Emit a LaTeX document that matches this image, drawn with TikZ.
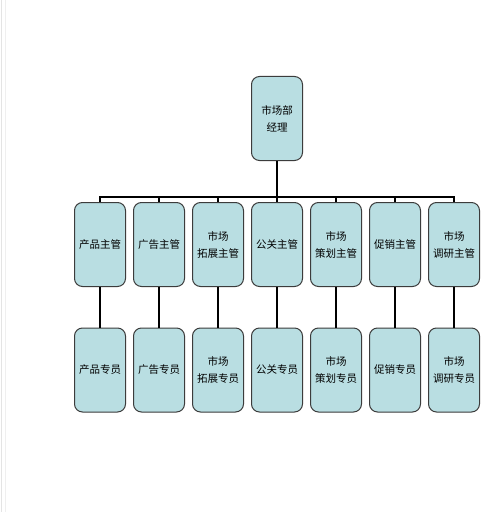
\documentclass[tikz,border=0pt]{standalone}
\usepackage{fontspec}
\newfontfamily\cjk{Noto Sans CJK SC}
\definecolor{boxfill}{RGB}{185,222,226}
\definecolor{boxedge}{RGB}{60,60,60}
\definecolor{faint}{RGB}{228,228,228}
\begin{document}
\begin{tikzpicture}[x=1pt,y=-1pt,
  orgbox/.style={rectangle, rounded corners=8pt, draw=boxedge, line width=1pt, fill=boxfill,
    minimum width=51pt, minimum height=84pt, inner sep=0pt, align=center,
    font=\cjk\fontsize{10.5}{17}\selectfont},
  link/.style={line width=2pt, black}]
\useasboundingbox (0,0) rectangle (500,516);
\fill[white] (0,0) rectangle (500,516);
\draw[faint, line width=1pt] (1,0) -- (1,512);
\draw[faint!60, line width=1pt] (5.5,0) -- (5.5,512);

\node[orgbox] (top) at (277,118.5) {市场部\\经理};

\foreach \i/\x/\t in {1/100/产品主管, 2/159/广告主管, 3/218/市场\\拓展主管, 4/277/公关主管,
  5/336/市场\\策划主管, 6/395/促销主管, 7/454/市场\\调研主管}{
  \node[orgbox] (m\i) at (\x,244.5) {\t};
}
\foreach \i/\x/\t in {1/100/产品专员, 2/159/广告专员, 3/218/市场\\拓展专员, 4/277/公关专员,
  5/336/市场\\策划专员, 6/395/促销专员, 7/454/市场\\调研专员}{
  \node[orgbox] (s\i) at (\x,370) {\t};
}

\coordinate (bus) at (277,197);
\draw[link] (top.south) -- (bus);
\draw[link] (m1.north) -- (m1.north |- bus) -- (m7.north |- bus) -- (m7.north);
\foreach \i in {2,...,6}{
  \draw[link] (m\i.north) -- (m\i.north |- bus);
}
\foreach \i in {1,...,7}{
  \draw[link] (m\i.south) -- (s\i.north);
}
\end{tikzpicture}
\end{document}
